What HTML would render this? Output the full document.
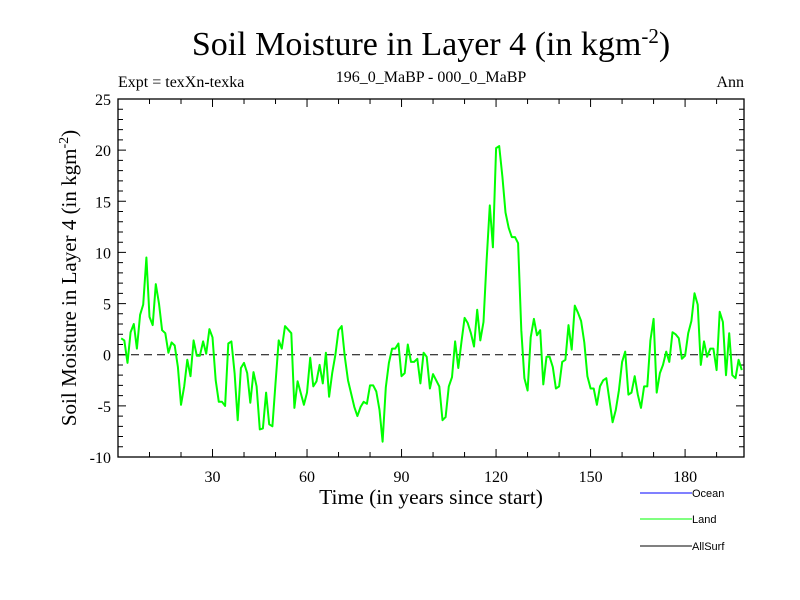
<!DOCTYPE html>
<html><head><meta charset="utf-8"><style>
body{margin:0;background:#fff;}
svg{display:block;font-family:"Liberation Serif",serif;}
</style></head><body>
<svg id="chart" width="800" height="600" viewBox="0 0 800 600">
<text x="431" y="55" font-size="34" text-anchor="middle">Soil Moisture in Layer 4 (in kgm<tspan dy="-12" font-size="21">-2</tspan><tspan dy="12">)</tspan></text>
<text x="118" y="87" font-size="16">Expt = texXn-texka</text>
<text x="431" y="82" font-size="16" text-anchor="middle">196_0_MaBP - 000_0_MaBP</text>
<text x="744" y="87" font-size="16" text-anchor="end">Ann</text>
<text x="431" y="504" font-size="21.5" text-anchor="middle">Time (in years since start)</text>
<text transform="translate(76,278) rotate(-90)" font-size="21" text-anchor="middle">Soil Moisture in Layer 4 (in kgm<tspan dy="-8" font-size="14">-2</tspan><tspan dy="8">)</tspan></text>
<g id="axes"></g>
<g id="series"></g>
<g font-family="Liberation Sans, sans-serif" font-size="11">
<line x1="640" y1="493" x2="692" y2="493" stroke="#0000ff"/>
<text x="692" y="497">Ocean</text>
<line x1="640" y1="519" x2="692" y2="519" stroke="#00ff00"/>
<text x="692" y="523">Land</text>
<line x1="640" y1="546" x2="692" y2="546" stroke="#000"/>
<text x="692" y="550">AllSurf</text>
</g>
</svg>
<script>
const years=[1,2,3,4,5,6,7,8,9,10,11,12,13,14,15,16,17,18,19,20,21,22,23,24,25,26,27,28,29,30,31,32,33,34,35,36,37,38,39,40,41,42,43,44,45,46,47,48,49,50,51,52,53,55,56,57,59,60,61,62,63,64,65,66,67,68,69,70,71,72,73,75,76,77,78,79,80,81,82,83,84,85,86,87,88,89,90,91,92,93,94,95,96,97,98,99,100,102,103,104,105,106,107,108,109,110,111,112,113,114,115,116,117,118,119,120,121,122,123,124,125,126,127,128,129,130,131,132,133,134,135,136,137,138,139,140,141,142,143,144,145,146,147,148,149,150,151,152,153,154,155,157,158,159,160,161,162,163,164,165,166,167,168,169,170,171,172,173,174,175,176,177,178,179,180,181,182,183,184,185,186,187,188,189,190,191,192,193,194,195,196,197,198];
const landValues=[1.6,1.4,-0.8,2.2,3.0,0.6,3.9,4.9,9.5,3.7,2.9,6.9,5.0,2.4,2.1,0.2,1.2,0.9,-1.2,-4.9,-3.1,-0.5,-2.1,1.4,-0.1,-0.1,1.3,0.1,2.5,1.7,-2.5,-4.6,-4.6,-5.0,1.1,1.3,-1.8,-6.4,-1.3,-0.8,-1.8,-4.7,-1.7,-3.1,-7.3,-7.2,-3.7,-6.8,-7.0,-2.8,1.4,0.6,2.8,2.1,-5.2,-2.6,-4.9,-3.7,-0.3,-3.1,-2.6,-1.0,-2.8,0.2,-4.1,-1.8,0.0,2.4,2.8,-0.2,-2.5,-5.1,-6.0,-5.1,-4.6,-4.8,-3.0,-3.0,-3.6,-5.4,-8.5,-3.2,-0.8,0.6,0.6,1.1,-2.1,-1.8,1.0,-0.7,-0.7,-0.4,-2.8,0.2,-0.2,-3.3,-1.9,-3.1,-6.4,-6.1,-3.1,-2.2,1.3,-1.3,1.2,3.6,3.1,2.1,0.8,4.4,1.4,3.2,9.2,14.6,10.5,20.2,20.4,17.4,13.9,12.4,11.5,11.5,10.9,2.4,-2.3,-3.5,1.7,3.5,1.9,2.4,-2.9,-0.2,-0.2,-1.2,-3.3,-3.1,-0.7,-0.5,2.9,0.5,4.8,4.1,3.3,1.2,-2.1,-3.3,-3.3,-4.9,-3.1,-2.5,-2.3,-6.6,-5.4,-3.5,-0.7,0.3,-3.9,-3.7,-2.1,-3.9,-5.2,-3.1,-3.1,1.4,3.5,-3.7,-1.8,-1.0,0.3,-0.7,2.2,2.0,1.6,-0.4,-0.1,2.1,3.3,6.0,4.9,-1.0,1.3,-0.2,0.6,0.6,-1.5,4.2,3.2,-2.0,2.1,-2.0,-2.3,-0.5,-1.5];
const xTickLabels=[30,60,90,120,150,180];
const yTickLabels=[-10,-5,0,5,10,15,20,25];
const xDomain=[0,198.7], yDomain=[-10,25];
const L=118,R=744,T=99,B=457;
function sx(v){return L+(v-xDomain[0])/(xDomain[1]-xDomain[0])*(R-L);}
function sy(v){return B-(v-yDomain[0])/(yDomain[1]-yDomain[0])*(B-T);}
const NS="http://www.w3.org/2000/svg";
const axes=document.getElementById('axes');
function mk(tag,attrs,parent){const e=document.createElementNS(NS,tag);for(const k in attrs)e.setAttribute(k,attrs[k]);parent.appendChild(e);return e;}
const frame=mk('rect',{x:L,y:T,width:R-L,height:B-T,fill:'none',stroke:'#000','stroke-width':1.3},axes);


let tp='';
for(let v=10;v<xDomain[1];v+=10){const x=sx(v);const len=(v%30===0)?8:5;tp+=`M${x},${B}V${B-len}M${x},${T}V${T+len}`;}
for(let v=yDomain[0]+1;v<yDomain[1];v++){const y=sy(v);const len=(v%5===0)?8:5;tp+=`M${L},${y}H${L+len}M${R},${y}H${R-len}`;}
const ticks=mk('path',{d:tp,stroke:'#000','stroke-width':1,fill:'none'},axes);


xTickLabels.forEach(v=>{const t=mk('text',{x:sx(v),y:B+25,'font-size':16,'text-anchor':'middle'},axes);t.textContent=v;

});
yTickLabels.forEach(v=>{const t=mk('text',{x:L-7,y:sy(v)+6,'font-size':16,'text-anchor':'end'},axes);t.textContent=v;

});
const zl=mk('line',{x1:L,x2:R,y1:sy(0),y2:sy(0),stroke:'#000','stroke-dasharray':'8,5','stroke-width':1},axes);


const series=document.getElementById('series');
const pts=years.map((y,i)=>sx(y).toFixed(1)+','+sy(landValues[i]).toFixed(1)).join(' ');
const pl=mk('polyline',{points:pts,fill:'none',stroke:'#00ff00','stroke-width':2,'stroke-linejoin':'round'},series);


</script>
</body></html>
